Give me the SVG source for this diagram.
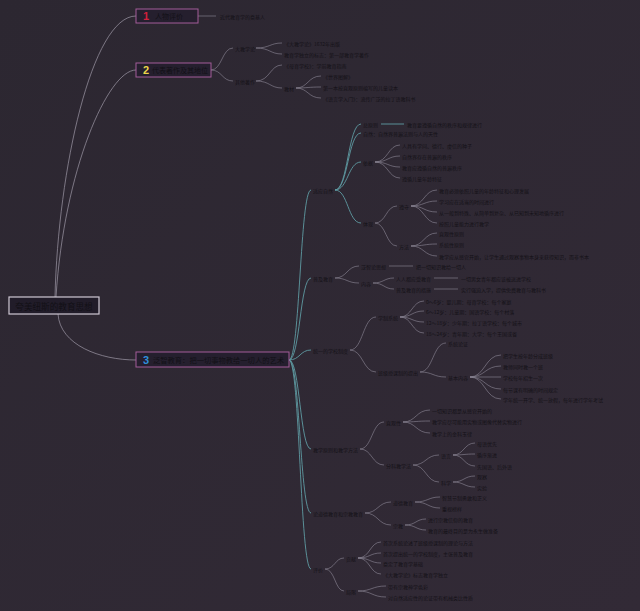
<svg xmlns="http://www.w3.org/2000/svg" width="640" height="611" viewBox="0 0 640 611">
<defs>
<linearGradient id="bg" x1="0" y1="0" x2="1" y2="1">
<stop offset="0" stop-color="#2c2731"/>
<stop offset="1" stop-color="#322a36"/>
</linearGradient>
<style>
.t{font-family:"Noto Sans CJK SC","Noto Sans",sans-serif;font-size:5px;fill:#141117;dominant-baseline:central}
.bt{font-family:"Noto Sans CJK SC","Noto Sans",sans-serif;font-size:7px;fill:#121016;dominant-baseline:central}
.num{font-family:"Liberation Sans","Noto Sans",sans-serif;font-size:11px;font-weight:bold;dominant-baseline:central}
.box{fill:#251f2e;stroke:#a35c99;stroke-width:1}
.rbox{fill:#211c29;stroke:#cfc8d4;stroke-width:1.2}
.r{fill:none;stroke:#9f9aa8;stroke-width:0.7}
.c1{fill:none;stroke:#5f9ba3;stroke-width:0.9}
.c2{fill:none;stroke:#8e8a98;stroke-width:0.6}
</style>
</defs>
<rect width="640" height="611" fill="url(#bg)"/>

<g id="connectors">
<!-- root to main nodes -->
<path class="r" d="M55,297 C58,170 92,16 136,16"/>
<path class="r" d="M56,297 C64,170 108,70 136,70"/>
<path class="r" d="M58,314 C60,345 100,360 136,360"/>
<!-- node 1 -->
<path class="c2" d="M198,16 L216,16"/>
<!-- node 2 -->
<path class="c2" d="M211,70 C222,70 222,48 233,48"/>
<path class="c2" d="M211,70 C222,70 222,81 233,81"/>
<path class="c2" d="M256,48 C270,48 270,43 282,43"/>
<path class="c2" d="M256,48 C270,48 270,54 282,54"/>
<path class="c2" d="M256,81 C270,81 270,65 282,65"/>
<path class="c2" d="M256,81 C270,81 270,88 282,88"/>
<path class="c2" d="M296,88 C308,88 308,76 321,76"/>
<path class="c2" d="M296,88 C308,88 308,87 321,87"/>
<path class="c2" d="M296,88 C308,88 308,98 321,98"/>
<!-- node 3 spine -->
<path class="c1" d="M289,360 C300,360 300,190 311,190"/>
<path class="c1" d="M289,360 C300,360 300,278 311,278"/>
<path class="c1" d="M289,360 C300,360 300,350 311,350"/>
<path class="c1" d="M289,360 C300,360 300,449 311,449"/>
<path class="c1" d="M289,360 C300,360 300,513 311,513"/>
<path class="c1" d="M289,360 C300,360 300,569 311,569"/>
<!-- A -->
<path class="c1" d="M335,190 C348,190 348,124 361,124"/>
<path class="c1" d="M335,190 C348,190 348,133 361,133"/>
<path class="c1" d="M335,190 C348,190 348,162 361,162"/>
<path class="c1" d="M335,190 C348,190 348,223 361,223"/>
<path class="c1" d="M381,124 L404,124"/>
<path class="c2" d="M375,162 C388,162 388,145 400,145"/>
<path class="c2" d="M375,162 C388,162 388,156 400,156"/>
<path class="c2" d="M375,162 C388,162 388,167 400,167"/>
<path class="c2" d="M375,162 C388,162 388,178 400,178"/>
<path class="c2" d="M375,223 C386,223 386,206 397,206"/>
<path class="c2" d="M375,223 C386,223 386,246 397,246"/>
<path class="c2" d="M411,206 C424,206 424,190 437,190"/>
<path class="c2" d="M411,206 C424,206 424,201 437,201"/>
<path class="c2" d="M411,206 C424,206 424,212 437,212"/>
<path class="c2" d="M411,206 C424,206 424,223 437,223"/>
<path class="c2" d="M411,246 C424,246 424,233 437,233"/>
<path class="c2" d="M411,246 C424,246 424,244 437,244"/>
<path class="c2" d="M411,246 C424,246 424,256 437,256"/>
<!-- B -->
<path class="c2" d="M335,278 C347,278 347,266 359,266"/>
<path class="c2" d="M335,278 C347,278 347,283 359,283"/>
<path class="c2" d="M389,266 L413,266"/>
<path class="c2" d="M373,283 C384,283 384,278 394,278"/>
<path class="c2" d="M373,283 C384,283 384,289 394,289"/>
<path class="c2" d="M434,278 L458,278"/>
<path class="c2" d="M434,289 L458,289"/>
<!-- C -->
<path class="c2" d="M350,350 C363,350 363,317 376,317"/>
<path class="c2" d="M350,350 C363,350 363,372 376,372"/>
<path class="c2" d="M400,317 C412,317 412,301 424,301"/>
<path class="c2" d="M400,317 C412,317 412,311 424,311"/>
<path class="c2" d="M400,317 C412,317 412,322 424,322"/>
<path class="c2" d="M400,317 C412,317 412,333 424,333"/>
<path class="c2" d="M420,372 C433,372 433,343 446,343"/>
<path class="c2" d="M420,372 C433,372 433,377 446,377"/>
<path class="c2" d="M470,377 C485,377 485,355 501,355"/>
<path class="c2" d="M470,377 C485,377 485,366 501,366"/>
<path class="c2" d="M470,377 L501,377"/>
<path class="c2" d="M470,377 C485,377 485,389 501,389"/>
<path class="c2" d="M470,377 C485,377 485,399 501,399"/>
<!-- D -->
<path class="c2" d="M360,449 C372,449 372,422 384,422"/>
<path class="c2" d="M360,449 C372,449 372,465 384,465"/>
<path class="c2" d="M403,422 C416,422 416,410 430,410"/>
<path class="c2" d="M403,422 C416,422 416,421 430,421"/>
<path class="c2" d="M403,422 C416,422 416,433 430,433"/>
<path class="c2" d="M413,465 C426,465 426,455 439,455"/>
<path class="c2" d="M413,465 C426,465 426,482 439,482"/>
<path class="c2" d="M453,455 C464,455 464,443 475,443"/>
<path class="c2" d="M453,455 C464,455 464,454 475,454"/>
<path class="c2" d="M453,455 C464,455 464,466 475,466"/>
<path class="c2" d="M453,482 C464,482 464,476 475,476"/>
<path class="c2" d="M453,482 C464,482 464,487 475,487"/>
<!-- E -->
<path class="c2" d="M365,513 C378,513 378,502 391,502"/>
<path class="c2" d="M365,513 C378,513 378,525 391,525"/>
<path class="c2" d="M415,502 C428,502 428,497 440,497"/>
<path class="c2" d="M415,502 C428,502 428,508 440,508"/>
<path class="c2" d="M405,525 C416,525 416,519 426,519"/>
<path class="c2" d="M405,525 C416,525 416,530 426,530"/>
<!-- F -->
<path class="c2" d="M325,569 C335,569 335,558 344,558"/>
<path class="c2" d="M325,569 C335,569 335,591 344,591"/>
<path class="c2" d="M358,558 C370,558 370,542 381,542"/>
<path class="c2" d="M358,558 C370,558 370,553 381,553"/>
<path class="c2" d="M358,558 C370,558 370,563 381,563"/>
<path class="c2" d="M358,558 C370,558 370,574 381,574"/>
<path class="c2" d="M358,591 C372,591 372,586 386,586"/>
<path class="c2" d="M358,591 C372,591 372,597 386,597"/>
</g>

<g id="root">
<rect class="rbox" x="9" y="297" width="90" height="17"/>
<text class="bt" x="54" y="305.5" text-anchor="middle" style="font-size:8.6px">夸美纽斯的教育思想</text>
</g>

<g id="node1">
<rect class="box" x="136" y="9" width="62" height="14"/>
<text class="num" x="143" y="16" fill="#d2203c">1</text>
<text class="bt" x="155" y="16">人物评价</text>
</g>
<g id="n1-1"><text class="t" x="220" y="16">近代教育学的奠基人</text></g>

<g id="node2">
<rect class="box" x="136" y="63" width="75" height="14"/>
<text class="num" x="143" y="70" fill="#ecd54a">2</text>
<text class="bt" x="152" y="70">代表著作及其地位</text>
</g>
<g id="n2-1"><text class="t" x="235" y="48">大教学论</text></g>
<g id="n2-1a"><text class="t" x="284" y="43">《大教学论》1632年出版</text></g>
<g id="n2-1b"><text class="t" x="284" y="54">教育学独立的标志：第一部教育学著作</text></g>
<g id="n2-2"><text class="t" x="235" y="81">其他著作</text></g>
<g id="n2-2a"><text class="t" x="284" y="65">《母育学校》：学前教育指南</text></g>
<g id="n2-2b"><text class="t" x="284" y="88">教材</text></g>
<g id="n2-2b1"><text class="t" x="323" y="76">《世界图解》</text></g>
<g id="n2-2b2"><text class="t" x="323" y="87">第一本按直观原则编写的儿童读本</text></g>
<g id="n2-2b3"><text class="t" x="323" y="98">《语言学入门》：流传广泛的拉丁语教科书</text></g>

<g id="node3">
<rect class="box" x="136" y="352" width="153" height="15"/>
<text class="num" x="143" y="359.5" fill="#2f8fdc">3</text>
<text class="bt" x="153" y="359.5" textLength="131" lengthAdjust="spacingAndGlyphs">泛智教育：把一切事物教给一切人的艺术</text>
</g>

<g id="a"><text class="t" x="313" y="190">适应自然</text></g>
<g id="a1"><text class="t" x="363" y="124">总原则</text></g>
<g id="a1a"><text class="t" x="407" y="124">教育要遵循自然的秩序和规律进行</text></g>
<g id="a2"><text class="t" x="363" y="133">自然：自然界普遍法则与人的天性</text></g>
<g id="a3"><text class="t" x="363" y="162">依据</text></g>
<g id="a3a"><text class="t" x="402" y="145">人具有学问、德行、虔信的种子</text></g>
<g id="a3b"><text class="t" x="402" y="156">自然界存在普遍的秩序</text></g>
<g id="a3c"><text class="t" x="402" y="167">教育应遵循自然的普遍秩序</text></g>
<g id="a3d"><text class="t" x="402" y="178">遵循儿童年龄特征</text></g>
<g id="a4"><text class="t" x="363" y="223">体现</text></g>
<g id="a4a"><text class="t" x="399" y="206">遵守</text></g>
<g id="a4a1"><text class="t" x="439" y="190">教育必须依照儿童的年龄特征和心理发展</text></g>
<g id="a4a2"><text class="t" x="439" y="201">学习应在适当的时间进行</text></g>
<g id="a4a3"><text class="t" x="439" y="212">从一般到特殊、从简单到复杂、从已知到未知地循序进行</text></g>
<g id="a4a4"><text class="t" x="439" y="223">按照儿童能力进行教学</text></g>
<g id="a4b"><text class="t" x="399" y="246">方法</text></g>
<g id="a4b1"><text class="t" x="439" y="233">直观性原则</text></g>
<g id="a4b2"><text class="t" x="439" y="244">系统性原则</text></g>
<g id="a4b3"><text class="t" x="439" y="256">教学应从感官开始，让学生通过观察事物本身来获得知识，而非书本</text></g>

<g id="b"><text class="t" x="313" y="278">普及教育</text></g>
<g id="b1"><text class="t" x="361" y="266">泛智论思想</text></g>
<g id="b1a"><text class="t" x="416" y="266">把一切知识教给一切人</text></g>
<g id="b2"><text class="t" x="361" y="283">内容</text></g>
<g id="b2a"><text class="t" x="396" y="278">人人都应受教育</text></g>
<g id="b2a1"><text class="t" x="461" y="278">一切男女青年都应该被送进学校</text></g>
<g id="b2b"><text class="t" x="396" y="289">普及教育的措施</text></g>
<g id="b2b1"><text class="t" x="461" y="289">实行强迫入学，提供免费教育与教科书</text></g>

<g id="c"><text class="t" x="313" y="350">统一的学校制度</text></g>
<g id="c1"><text class="t" x="378" y="317">学制系统</text></g>
<g id="c1a"><text class="t" x="426" y="301">0～6岁：婴儿期：母育学校：每个家庭</text></g>
<g id="c1b"><text class="t" x="426" y="311">6～12岁：儿童期：国语学校：每个村落</text></g>
<g id="c1c"><text class="t" x="426" y="322">12～18岁：少年期：拉丁语学校：每个城市</text></g>
<g id="c1d"><text class="t" x="426" y="333">18～24岁：青年期：大学：每个王国或省</text></g>
<g id="c2"><text class="t" x="378" y="372">班级授课制的提出</text></g>
<g id="c2a"><text class="t" x="448" y="343">系统论证</text></g>
<g id="c2b"><text class="t" x="448" y="377">基本内容</text></g>
<g id="c2b1"><text class="t" x="503" y="355">把学生按年龄分成班级</text></g>
<g id="c2b2"><text class="t" x="503" y="366">教师同时教一个班</text></g>
<g id="c2b3"><text class="t" x="503" y="377">学校每年招生一次</text></g>
<g id="c2b4"><text class="t" x="503" y="389">每节课有明确的时间规定</text></g>
<g id="c2b5"><text class="t" x="503" y="399">学年统一开学、统一放假，每年进行学年考试</text></g>

<g id="d"><text class="t" x="313" y="449">教学原则和教学方法</text></g>
<g id="d1"><text class="t" x="386" y="422">直观性</text></g>
<g id="d1a"><text class="t" x="432" y="410">一切知识都是从感官开始的</text></g>
<g id="d1b"><text class="t" x="432" y="421">教学应尽可能用实物或图像代替实物进行</text></g>
<g id="d1c"><text class="t" x="432" y="433">教学上的金科玉律</text></g>
<g id="d2"><text class="t" x="386" y="465">分科教学法</text></g>
<g id="d2a"><text class="t" x="441" y="455">语言</text></g>
<g id="d2a1"><text class="t" x="477" y="443">母语优先</text></g>
<g id="d2a2"><text class="t" x="477" y="454">循序渐进</text></g>
<g id="d2a3"><text class="t" x="477" y="466">先国语、后外语</text></g>
<g id="d2b"><text class="t" x="441" y="482">科学</text></g>
<g id="d2b1"><text class="t" x="477" y="476">观察</text></g>
<g id="d2b2"><text class="t" x="477" y="487">实验</text></g>

<g id="e"><text class="t" x="313" y="513">论道德教育和宗教教育</text></g>
<g id="e1"><text class="t" x="393" y="502">道德教育</text></g>
<g id="e1a"><text class="t" x="442" y="497">智慧节制勇敢和正义</text></g>
<g id="e1b"><text class="t" x="442" y="508">重视榜样</text></g>
<g id="e2"><text class="t" x="393" y="525">宗教</text></g>
<g id="e2a"><text class="t" x="428" y="519">进行宗教信仰的教育</text></g>
<g id="e2b"><text class="t" x="428" y="530">教育的最终目的是为永生做准备</text></g>

<g id="f"><text class="t" x="313" y="569">评价</text></g>
<g id="f1"><text class="t" x="346" y="558">贡献</text></g>
<g id="f1a"><text class="t" x="383" y="542">首次系统论述了班级授课制的理论与方法</text></g>
<g id="f1b"><text class="t" x="383" y="553">首次提出统一的学校制度，主张普及教育</text></g>
<g id="f1c"><text class="t" x="383" y="563">奠定了教育学基础</text></g>
<g id="f1d"><text class="t" x="383" y="574">《大教学论》标志教育学独立</text></g>
<g id="f2"><text class="t" x="346" y="591">局限</text></g>
<g id="f2a"><text class="t" x="388" y="586">带有宗教神学色彩</text></g>
<g id="f2b"><text class="t" x="388" y="597">对自然适应性的论证带有机械类比性质</text></g>
</svg>
